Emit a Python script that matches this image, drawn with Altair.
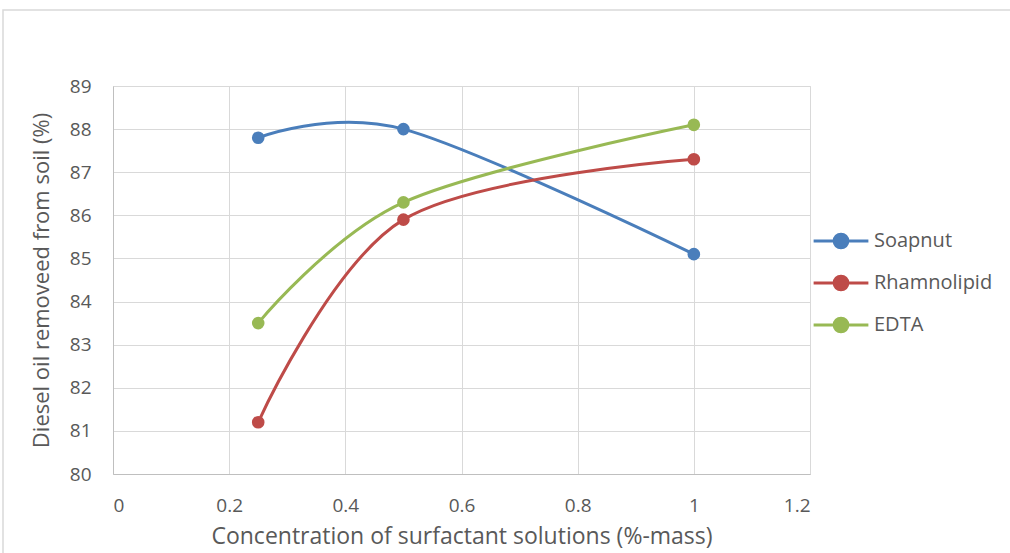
import altair as alt
import pandas as pd

conc = [0.25, 0.5, 1.0]
soapnut = [87.8, 88.0, 85.1]
rhamnolipid = [81.2, 85.9, 87.3]
edta = [83.5, 86.3, 88.1]
series = ["Soapnut", "Rhamnolipid", "EDTA"]
colors = ["#4A7EBB", "#BE4B48", "#98B954"]

rows = []
for name, vals in zip(series, [soapnut, rhamnolipid, edta]):
    for x, y in zip(conc, vals):
        rows.append({"conc": x, "val": y, "series": name})
df = pd.DataFrame(rows)

FONT = "Open Sans"
TXT = "#595959"
color = alt.Color(
    "series:N",
    scale=alt.Scale(domain=series, range=colors),
    legend=alt.Legend(
        title=None,
        orient="none",
        legendX=699,
        legendY=126,
        symbolType="M-1,0L1,0M-0.25,0A0.25,0.25,0,1,0,0.25,0A0.25,0.25,0,1,0,-0.25,0Z",
        symbolSize=3000,
        symbolStrokeWidth=3,
        labelFontSize=20,
        labelFont=FONT,
        labelColor=TXT,
        rowPadding=-7,
        labelOffset=4,
    ),
)

x = alt.X(
    "conc:Q",
    scale=alt.Scale(domain=[0, 1.2], nice=False),
    axis=alt.Axis(
        values=[0, 0.2, 0.4, 0.6, 0.8, 1, 1.2],
        format="~g",
        title="Concentration of surfactant solutions (%-mass)",
        titleFont=FONT, titleFontSize=23, titleFontWeight="normal", titleColor=TXT,
        titlePadding=10,
        labelFont=FONT, labelFontSize=19, labelColor=TXT, labelPadding=22,
        ticks=False, domainColor="#BFBFBF", gridColor="#D9D9D9",
    ),
)
y = alt.Y(
    "val:Q",
    scale=alt.Scale(domain=[80, 89], nice=False, zero=False),
    axis=alt.Axis(
        values=list(range(80, 90)),
        title="Diesel oil removeed from soil (%)",
        titleFont=FONT, titleFontSize=22, titleFontWeight="normal", titleColor=TXT,
        titlePadding=16,
        labelFont=FONT, labelFontSize=19, labelColor=TXT, labelPadding=22,
        ticks=False, domainColor="#BFBFBF", gridColor="#D9D9D9",
    ),
)

frame = alt.Chart(pd.DataFrame({"a": [0]})).mark_rect(
    fill=None, stroke="#D9D9D9", strokeWidth=1.5
).encode(
    x=alt.value(-110), x2=alt.value(1100), y=alt.value(-76), y2=alt.value(700)
)

lines = alt.Chart(df).mark_line(interpolate="cardinal", strokeWidth=3).encode(
    x=x, y=y, color=color, detail="series:N"
)
points = alt.Chart(df).mark_point(filled=True, size=160, opacity=1).encode(
    x=x, y=y, color=color
)

chart = alt.layer(frame, lines, points).properties(
    width=697,
    height=388,
    autosize=alt.AutoSizeParams(type="none"),
    padding={"left": 113, "top": 86, "right": 200, "bottom": 79},
).configure_view(stroke=None).configure(background="white")

chart.save("out.html", embed_options={"renderer": "svg", "actions": False})
